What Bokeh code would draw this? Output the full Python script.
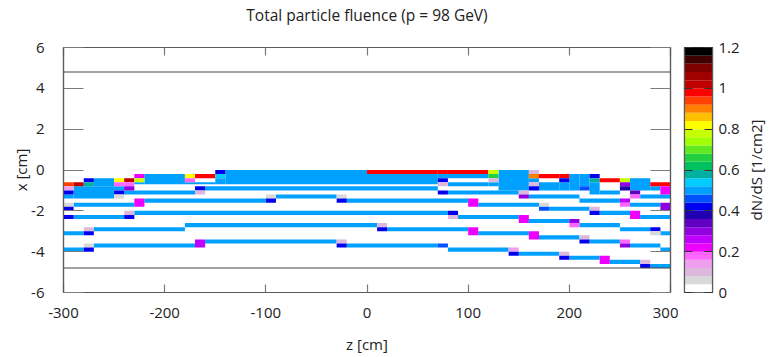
import math
import numpy as np
from bokeh.plotting import figure
from bokeh.models import (ColumnDataSource, LinearColorMapper, FixedTicker, LinearAxis,
                          CustomJSTickFormatter, Range1d)
from bokeh.layouts import row
from bokeh.embed import file_html
from bokeh.resources import INLINE

# ---------------- data ----------------
title_text = "Total particle fluence (p = 98 GeV)"
z_label = "z [cm]"
x_label = "x [cm]"
cbar_label = "dN/dS [1/cm2]"
z_ticks = [-300, -200, -100, 0, 100, 200, 300]
x_ticks = [-6, -4, -2, 0, 2, 4, 6]
cbar_ticks = [0, 0.2, 0.4, 0.6, 0.8, 1.0, 1.2]
boundary_x = [4.8, -4.8]

palette = ["#ffffff", "#d8d8d8", "#dcb8dc", "#eea0ee", "#ff66ff", "#ee00ff", "#c000ff",
           "#9000e0", "#6000c0", "#2000b0", "#0000ee", "#0050ff", "#00a0ff", "#00ccff",
           "#00b0a0", "#00c060", "#20d040", "#60e820", "#a0ff00", "#c8ff00", "#ffff00",
           "#ffc000", "#ff8000", "#ff4000", "#ff0000", "#c00000", "#a00000", "#800000",
           "#400000", "#000000"]

# cells: (z_from, z_to, x_top, x_bottom, dN/dS)
top_region = [
    (-300, -290, -0.6, -0.8, 0.94), (-300, -290, -0.8, -1.0, 0.14), (-300, -290, -1.0, -1.2, 0.42),
    (-300, -290, -1.2, -1.4, 0.5),
    (-290, -280, -0.6, -0.8, 1.02), (-290, -250, -0.8, -1.4, 0.5),
    (-280, -270, -0.4, -0.6, 0.42), (-280, -270, -0.6, -0.8, 0.58),
    (-270, -250, -0.4, -0.8, 0.5),
    (-250, -240, -0.4, -0.6, 0.82), (-250, -240, -0.6, -0.8, 0.18), (-250, -240, -0.8, -1.0, 0.5),
    (-250, -240, -1.0, -1.2, 0.42), (-250, -240, -1.2, -1.4, 0.06),
    (-240, -230, -0.4, -0.6, 1.02), (-240, -230, -0.6, -0.8, 0.18), (-240, -230, -0.8, -1.0, 0.30),
    (-240, -170, -1.0, -1.2, 0.5),
    (-230, -220, -0.2, -0.4, 0.22), (-230, -220, -0.4, -0.6, 0.78), (-230, -220, -0.6, -0.7, 0.5),
    (-220, -180, -0.2, -0.7, 0.5),
    (-180, -170, -0.2, -0.4, 0.82), (-180, -170, -0.4, -0.6, 0.18), (-180, -170, -0.6, -0.7, 0.5),
    (-170, -150, -0.2, -0.4, 0.98), (-170, -150, -0.6, -0.7, 0.5),
    (-170, -160, -0.8, -1.0, 0.42), (-170, -160, -1.0, -1.2, 0.10),
    (-150, -140, 0.0, -0.2, 0.42), (-150, -140, -0.2, -0.4, 0.54), (-150, -140, -0.4, -0.7, 0.5),
    (-140, 0, 0.0, -0.7, 0.5),
    (-160, 70, -0.8, -1.0, 0.5),
    (0, 70, 0.0, -0.2, 0.98), (0, 70, -0.2, -0.7, 0.5),
    (70, 80, 0.0, -0.2, 0.98), (70, 80, -0.2, -0.4, 0.5), (70, 80, -0.4, -0.6, 0.42),
    (70, 80, -0.6, -0.8, 0.10), (70, 80, -1.0, -1.2, 0.42),
    (80, 120, 0.0, -0.2, 0.98), (80, 120, -0.2, -0.4, 0.5), (80, 120, -0.6, -0.8, 0.5),
    (120, 130, 0.0, -0.2, 0.78), (120, 130, -0.2, -0.4, 0.66), (120, 130, -0.4, -0.6, 0.10),
    (120, 130, -0.6, -0.8, 0.5),
    (80, 150, -1.0, -1.2, 0.5),
    (130, 160, 0.0, -1.0, 0.5),
    (150, 160, -1.0, -1.2, 0.10), (150, 160, -1.2, -1.4, 0.30),
    (160, 170, 0.0, -0.2, 0.10), (160, 170, -0.2, -0.4, 0.90), (160, 170, -0.4, -0.6, 0.5),
    (160, 170, -0.6, -0.8, 0.10), (160, 170, -0.8, -1.0, 0.42),
    (170, 190, -0.2, -0.4, 0.98), (170, 190, -0.6, -1.0, 0.5),
    (190, 200, -0.2, -0.4, 0.98), (190, 200, -0.4, -0.6, 0.42), (190, 200, -0.6, -1.0, 0.5),
    (200, 210, -0.2, -1.0, 0.5),
    (210, 220, -0.2, -0.8, 0.5), (210, 220, -0.8, -1.0, 0.46),
    (220, 230, -0.2, -0.4, 0.42), (220, 230, -0.4, -0.6, 0.58), (220, 230, -0.6, -1.2, 0.5),
    (230, 250, -0.4, -0.6, 0.98), (230, 250, -1.0, -1.2, 0.5),
    (250, 260, -0.4, -0.6, 0.78), (250, 260, -0.6, -0.8, 0.30), (250, 260, -0.8, -1.0, 0.38),
    (260, 280, -0.4, -1.0, 0.5),
    (260, 270, -1.0, -1.2, 0.34), (260, 270, -1.2, -1.4, 0.18),
    (270, 300, -1.2, -1.4, 0.5),
    (280, 300, -0.6, -0.8, 0.98), (280, 290, -0.8, -1.0, 0.5), (290, 300, -0.8, -1.2, 0.22),
    (160, 210, -1.2, -1.4, 0.5),
    (210, 250, -1.4, -1.6, 0.5),
    (250, 260, -1.4, -1.6, 0.26), (250, 260, -1.6, -1.8, 0.18),
    (260, 290, -1.6, -1.8, 0.5), (290, 300, -1.6, -2.0, 0.30),
]

layer_d = [
    (-300, -290, -1.6, -1.8, 0.06), (-300, -290, -1.8, -2.0, 0.42),
    (-290, -230, -1.6, -1.8, 0.5), (-230, -220, -1.4, -1.8, 0.22),
    (-220, -100, -1.4, -1.6, 0.5),
    (-100, -90, -1.2, -1.4, 0.06), (-100, -90, -1.4, -1.6, 0.42),
    (-90, -30, -1.2, -1.4, 0.5),
    (-30, -20, -1.2, -1.4, 0.06), (-30, -20, -1.4, -1.6, 0.42),
    (-20, 100, -1.4, -1.6, 0.5), (100, 110, -1.4, -1.8, 0.22),
    (110, 170, -1.6, -1.8, 0.5),
    (170, 180, -1.6, -1.8, 0.06), (170, 180, -1.8, -2.0, 0.46),
    (180, 220, -1.8, -2.0, 0.5),
    (220, 230, -1.8, -2.0, 0.10), (220, 230, -2.0, -2.2, 0.42),
    (230, 260, -2.0, -2.2, 0.5), (260, 270, -2.0, -2.4, 0.22),
    (270, 300, -2.2, -2.4, 0.5),
]

layer_e = [
    (-300, -290, -2.2, -2.4, 0.42), (-290, -240, -2.2, -2.4, 0.5),
    (-240, -230, -2.0, -2.2, 0.10), (-240, -230, -2.2, -2.4, 0.42),
    (-230, 80, -2.0, -2.2, 0.5),
    (80, 90, -2.0, -2.2, 0.42), (80, 90, -2.2, -2.4, 0.10),
    (90, 150, -2.2, -2.4, 0.5), (150, 160, -2.2, -2.6, 0.22),
    (160, 200, -2.4, -2.6, 0.5),
    (200, 210, -2.4, -2.6, 0.30), (200, 210, -2.6, -2.8, 0.18),
    (210, 250, -2.6, -2.8, 0.5), (250, 280, -2.8, -3.0, 0.5),
    (280, 290, -2.8, -3.0, 0.42), (280, 290, -3.0, -3.2, 0.06),
    (290, 300, -3.0, -3.2, 0.5),
]

layer_f = [
    (-300, -280, -3.0, -3.2, 0.5),
    (-280, -270, -2.8, -3.0, 0.10), (-280, -270, -3.0, -3.2, 0.42),
    (-270, -180, -2.8, -3.0, 0.5), (-180, 10, -2.6, -2.8, 0.5),
    (10, 20, -2.6, -2.8, 0.10), (10, 20, -2.8, -3.0, 0.42),
    (20, 100, -2.8, -3.0, 0.5), (100, 110, -2.8, -3.2, 0.22),
    (110, 160, -3.0, -3.2, 0.5), (160, 170, -3.0, -3.4, 0.22),
    (170, 210, -3.2, -3.4, 0.5),
    (210, 220, -3.2, -3.4, 0.10), (210, 220, -3.4, -3.6, 0.42),
    (220, 250, -3.4, -3.6, 0.5),
    (250, 260, -3.4, -3.6, 0.18), (250, 260, -3.6, -3.8, 0.30),
    (260, 290, -3.6, -3.8, 0.5), (290, 300, -3.8, -4.0, 0.5),
]

layer_g = [
    (-300, -280, -3.8, -4.0, 0.5),
    (-280, -270, -3.6, -3.8, 0.06), (-280, -270, -3.8, -4.0, 0.42),
    (-270, -170, -3.6, -3.8, 0.5), (-170, -160, -3.4, -3.8, 0.26),
    (-160, -30, -3.4, -3.6, 0.5),
    (-30, -20, -3.4, -3.6, 0.10), (-30, -20, -3.6, -3.8, 0.42),
    (-20, 70, -3.6, -3.8, 0.5), (70, 80, -3.6, -3.8, 0.46),
    (80, 140, -3.8, -4.0, 0.5),
    (140, 150, -3.8, -4.0, 0.14), (140, 150, -4.0, -4.2, 0.42),
    (150, 190, -4.0, -4.2, 0.5),
    (190, 200, -4.0, -4.2, 0.10), (190, 200, -4.2, -4.4, 0.42),
    (200, 230, -4.2, -4.4, 0.5), (230, 240, -4.2, -4.6, 0.22),
    (240, 270, -4.4, -4.6, 0.5),
    (270, 280, -4.4, -4.6, 0.10), (270, 280, -4.6, -4.8, 0.42),
    (280, 300, -4.6, -4.8, 0.5),
]

# ---------------- build ----------------
FONT = "Open Sans"
FS = "15px"
TXT = "#222222"
FRAME = "#5a5a5a"
TICK = "#7a7a7a"

cells = top_region + layer_d + layer_e + layer_f + layer_g
cells = sorted(cells, key=lambda c: 0 if c[4] == 0.5 else 1)
src = ColumnDataSource(dict(
    z0=[c[0] for c in cells], z1=[c[1] for c in cells],
    xt=[c[2] for c in cells], xb=[c[3] for c in cells],
    v=[c[4] for c in cells]))

mapper = LinearColorMapper(palette=palette, low=0, high=1.2)

p = figure(width=678, height=357, x_range=Range1d(-300, 300), y_range=Range1d(-6, 6),
           output_backend="svg", toolbar_location=None,
           x_axis_label=z_label, y_axis_label=x_label,
           min_border_left=63, min_border_right=8, min_border_top=47, min_border_bottom=65)
p.quad(left="z0", right="z1", top="xt", bottom="xb", source=src,
       fill_color={"field": "v", "transform": mapper}, line_color=None)
p.segment(x0=[-300] * len(boundary_x), x1=[300] * len(boundary_x), y0=boundary_x, y1=boundary_x,
          line_color="#444444", line_width=1.2)

p.grid.visible = False
p.outline_line_color = FRAME
p.outline_line_width = 1.2


def plain():
    return CustomJSTickFormatter(code="return (Math.round(tick*10)/10).toString()")


def blank():
    return CustomJSTickFormatter(code="return ''")


def style_axis(ax, tick_in, ticks):
    ax.ticker = FixedTicker(ticks=ticks)
    ax.major_tick_in = tick_in
    ax.major_tick_out = 0
    ax.minor_tick_line_color = None
    ax.major_tick_line_color = TICK
    ax.major_tick_line_width = 1.2
    ax.axis_line_color = FRAME
    ax.axis_line_width = 1.2
    ax.major_label_text_font = FONT
    ax.major_label_text_font_size = FS
    ax.major_label_text_color = TXT
    ax.axis_label_text_font = FONT
    ax.axis_label_text_font_size = FS
    ax.axis_label_text_font_style = "normal"
    ax.axis_label_text_color = TXT


style_axis(p.xaxis[0], 8, z_ticks)
style_axis(p.yaxis[0], 20, x_ticks)
p.xaxis[0].formatter = plain()
p.yaxis[0].formatter = plain()
p.xaxis.major_label_standoff = 15
p.xaxis.axis_label_standoff = 13
p.yaxis.major_label_standoff = 19
p.yaxis.axis_label_standoff = -3

# top frame edge: inward ticks, and the chart title as its label
ax_top = LinearAxis(formatter=blank(), major_label_standoff=0, axis_label=title_text)
style_axis(ax_top, 8, z_ticks)
ax_top.major_label_text_font_size = "1px"
ax_top.axis_label_text_font_size = "15.5px"
ax_top.axis_label_standoff = 22
p.add_layout(ax_top, "above")
ax_right = LinearAxis(formatter=blank(), major_label_standoff=0)
style_axis(ax_right, 20, x_ticks)
ax_right.major_label_text_font_size = "1px"
p.add_layout(ax_right, "right")

# ---------------- colour bar ----------------
n = len(palette)
lev_lo = list(np.arange(n) * 1.2 / n)
lev_hi = list((np.arange(n) + 1) * 1.2 / n)
cb = figure(width=64, height=357, x_range=Range1d(0, 1), y_range=Range1d(0, 1.2),
            output_backend="svg", toolbar_location=None,
            x_axis_location=None, y_axis_location="right",
            min_border_left=6, min_border_right=26, min_border_top=47, min_border_bottom=65)
cb.quad(left=0, right=1, bottom=lev_lo, top=lev_hi, fill_color=palette, line_color=None)
cb.grid.visible = False
cb.outline_line_color = "#333333"
cb.outline_line_width = 1.2
style_axis(cb.yaxis[0], 8, cbar_ticks)
cb.yaxis[0].formatter = plain()
cb.yaxis[0].major_tick_line_color = "#333333"
cb.yaxis[0].major_label_standoff = 6
cb_left = LinearAxis(formatter=blank(), major_label_standoff=0)
style_axis(cb_left, 8, cbar_ticks)
cb_left.major_tick_line_color = "#333333"
cb_left.major_label_text_font_size = "1px"
cb.add_layout(cb_left, "left")

# colour-bar title: a left axis label of a thin, empty companion figure
cbt = figure(width=32, height=357, x_range=Range1d(0, 1), y_range=Range1d(0, 1),
             output_backend="svg", toolbar_location=None, x_axis_location=None,
             y_axis_label=cbar_label,
             min_border_left=20, min_border_right=0, min_border_top=47, min_border_bottom=48)
cbt.grid.visible = False
cbt.outline_line_color = None
cbt.background_fill_color = None
cbt.border_fill_color = None
ya = cbt.yaxis[0]
ya.ticker = FixedTicker(ticks=[])
ya.axis_line_color = None
ya.major_tick_line_color = None
ya.minor_tick_line_color = None
ya.major_tick_out = 0
ya.major_label_standoff = 0
ya.axis_label_standoff = 0
ya.axis_label_text_font = FONT
ya.axis_label_text_font_size = FS
ya.axis_label_text_font_style = "normal"
ya.axis_label_text_color = TXT

layout = row(p, cb, cbt)
open("out.html", "w").write(file_html(layout, INLINE))
